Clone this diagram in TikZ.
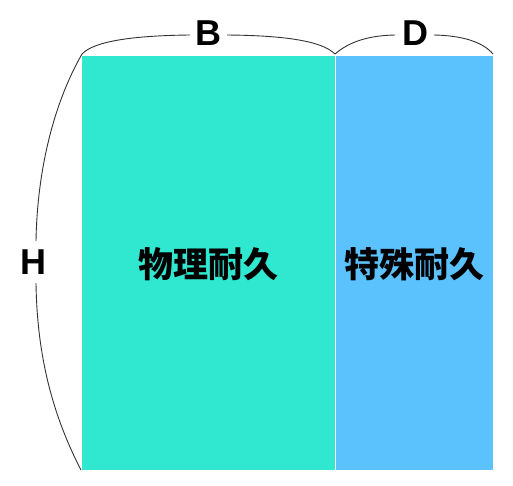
\documentclass[tikz,border=0pt]{standalone}
\usepackage{fontspec}
\setmainfont{Liberation Sans}
\newfontfamily\cjk{Noto Sans CJK SC}
\definecolor{tealbox}{HTML}{30E7CF}
\definecolor{bluebox}{HTML}{5BC2FD}
\definecolor{braceline}{HTML}{333333}
\begin{document}
\begin{tikzpicture}[x=1pt,y=-1pt,
  brace/.style={draw=braceline,line width=0.9pt},
  dimlabel/.style={font=\bfseries\fontsize{36}{36}\selectfont,inner sep=0pt,anchor=center},
  cjklabel/.style={font=\cjk\bfseries\fontsize{35}{35}\selectfont,inner sep=0pt,anchor=center}]
\useasboundingbox (0,0) rectangle (513,485);
% boxes
\fill[tealbox] (82,56) rectangle (334.5,470);
\fill[bluebox] (336,56) rectangle (493,470);
\node[cjklabel] (phys) at (208,264) {物理耐久};
\node[cjklabel] (spec) at (414,264) {特殊耐久};
% labels
\node[dimlabel] (B) at (208.5,33) {B};
\node[dimlabel] (D) at (415,33) {D};
\node[dimlabel] (H) at (33,262) {H};
% corner coordinates
\coordinate (tl) at (82,54);
\coordinate (tm) at (335,54);
\coordinate (tr) at (493,54);
\coordinate (bl) at (81,470);
% B brace
\draw[brace] (tl) .. controls (95,40) and (140,35.5) .. (190,35);
\draw[brace] (227,35) .. controls (285,35.5) and (322,41) .. (tm);
% D brace
\draw[brace] (tm) .. controls (350,41) and (370,35.5) .. (395,35);
\draw[brace] (434,35) .. controls (460,35.5) and (482,41) .. (tr);
% H brace
\draw[brace] (tl) .. controls (50,110) and (37,180) .. (36,241);
\draw[brace] (36,283) .. controls (37,350) and (50,410) .. (bl);
\end{tikzpicture}
\end{document}
